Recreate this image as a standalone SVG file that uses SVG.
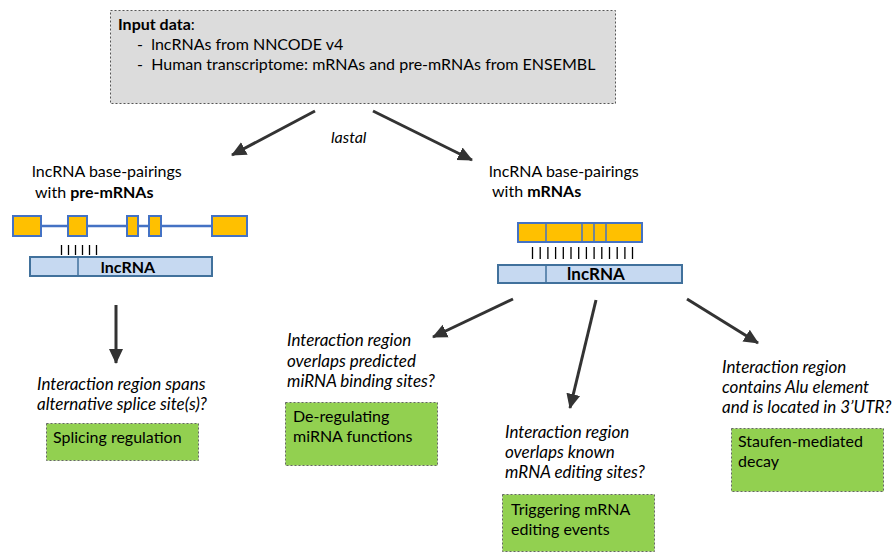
<svg xmlns="http://www.w3.org/2000/svg" width="894" height="554" viewBox="0 0 894 554">
  <style>
    text { font-family: Lato, "Open Sans", "Liberation Sans", sans-serif; fill: #000; }
    .t { font-size: 16px; }
    .q { font-size: 17px; font-style: italic; }
    .b { font-weight: bold; }
    .input { fill: #dcdcdc; stroke: #555; stroke-width: 1; stroke-dasharray: 2 2; }
    .result { fill: #92d050; stroke: #666; stroke-width: 1; stroke-dasharray: 2 2; }
    .exon { fill: #ffc000; stroke: #4472c4; stroke-width: 2; }
    .lnc { fill: #c6d9f1; stroke: #41719c; stroke-width: 2; }
    .intron { stroke: #4472c4; stroke-width: 2.5; fill: none; }
    .tick { stroke: #000; stroke-width: 1.3; }
    .arrow { stroke: #333; stroke-width: 3; fill: none; marker-end: url(#head); }
    .lbl { font-size: 16px; font-weight: bold; text-anchor: middle; }
  </style>
  <defs>
    <marker id="head" markerUnits="userSpaceOnUse" markerWidth="16" markerHeight="16" refX="14" refY="8" orient="auto">
      <path d="M0,1 L15,8 L0,15 Z" fill="#333"/>
    </marker>
  </defs>

  <!-- input data box -->
  <g id="input">
    <rect class="input" x="110.5" y="10.5" width="505" height="93"/>
    <text class="t" x="118" y="30"><tspan class="b">Input data</tspan>:</text>
    <text class="t" x="137" y="50" xml:space="preserve">-  lncRNAs from NNCODE v4</text>
    <text class="t" x="137" y="70" xml:space="preserve">-  Human transcriptome: mRNAs and pre-mRNAs from ENSEMBL</text>
  </g>

  <!-- pre-mRNA pairing -->
  <g id="pre-mrna">
    <text class="t" x="32" y="177">lncRNA base-pairings</text>
    <text class="t" x="35" y="198">with <tspan class="b">pre-mRNAs</tspan></text>
    <line class="intron" x1="41" y1="226" x2="212" y2="226"/>
    <rect class="exon" x="13" y="216" width="28" height="20"/>
    <rect class="exon" x="68" y="216" width="19" height="20"/>
    <rect class="exon" x="127" y="216" width="11" height="20"/>
    <rect class="exon" x="149" y="216" width="12" height="20"/>
    <rect class="exon" x="212" y="216" width="35" height="20"/>
    <g class="tick">
      <line x1="61.5" y1="245" x2="61.5" y2="255"/>
      <line x1="68.5" y1="245" x2="68.5" y2="255"/>
      <line x1="75.5" y1="245" x2="75.5" y2="255"/>
      <line x1="82.5" y1="245" x2="82.5" y2="255"/>
      <line x1="89.5" y1="245" x2="89.5" y2="255"/>
      <line x1="96.5" y1="245" x2="96.5" y2="255"/>
    </g>
    <rect class="lnc" x="30" y="257" width="182" height="19"/>
    <line x1="78" y1="257" x2="78" y2="276" stroke="#41719c" stroke-width="1.5"/>
    <text class="lbl" x="128" y="273">lncRNA</text>
  </g>

  <!-- mRNA pairing -->
  <g id="mrna">
    <text class="t" x="489" y="177">lncRNA base-pairings</text>
    <text class="t" x="492" y="197">with <tspan class="b">mRNAs</tspan></text>
    <rect class="exon" x="518" y="223" width="124" height="19"/>
    <g stroke="#4472c4" stroke-width="1.5">
      <line x1="546" y1="223" x2="546" y2="242"/>
      <line x1="582" y1="223" x2="582" y2="242"/>
      <line x1="594" y1="223" x2="594" y2="242"/>
      <line x1="606" y1="223" x2="606" y2="242"/>
    </g>
    <g class="tick">
      <line x1="532.5" y1="247" x2="532.5" y2="259"/>
      <line x1="540.2" y1="247" x2="540.2" y2="259"/>
      <line x1="547.9" y1="247" x2="547.9" y2="259"/>
      <line x1="555.6" y1="247" x2="555.6" y2="259"/>
      <line x1="563.3" y1="247" x2="563.3" y2="259"/>
      <line x1="571" y1="247" x2="571" y2="259"/>
      <line x1="578.7" y1="247" x2="578.7" y2="259"/>
      <line x1="586.4" y1="247" x2="586.4" y2="259"/>
      <line x1="594.1" y1="247" x2="594.1" y2="259"/>
      <line x1="601.8" y1="247" x2="601.8" y2="259"/>
      <line x1="609.5" y1="247" x2="609.5" y2="259"/>
      <line x1="617.2" y1="247" x2="617.2" y2="259"/>
      <line x1="624.9" y1="247" x2="624.9" y2="259"/>
      <line x1="632.5" y1="247" x2="632.5" y2="259"/>
    </g>
    <rect class="lnc" x="498" y="265" width="184" height="18"/>
    <line x1="546" y1="265" x2="546" y2="283" stroke="#41719c" stroke-width="1.5"/>
    <text class="lbl" x="596" y="280" style="font-size:17px">lncRNA</text>
  </g>

  <!-- outcomes -->
  <g id="splicing">
    <text class="q" x="37" y="390">Interaction region spans</text>
    <text class="q" x="37" y="410">alternative splice site(s)?</text>
    <rect class="result" x="46.5" y="423.5" width="152" height="37"/>
    <text class="t" x="53" y="443">Splicing regulation</text>
  </g>

  <g id="mirna">
    <text class="q" x="287" y="346">Interaction region</text>
    <text class="q" x="287" y="367">overlaps predicted</text>
    <text class="q" x="287" y="387">miRNA binding sites?</text>
    <rect class="result" x="285.5" y="402.5" width="152" height="63"/>
    <text class="t" x="293" y="422">De-regulating</text>
    <text class="t" x="293" y="442">miRNA functions</text>
  </g>

  <g id="editing">
    <text class="q" x="505" y="438">Interaction region</text>
    <text class="q" x="505" y="458">overlaps known</text>
    <text class="q" x="505" y="478">mRNA editing sites?</text>
    <rect class="result" x="502.5" y="494.5" width="152" height="57"/>
    <text class="t" x="511" y="515">Triggering mRNA</text>
    <text class="t" x="511" y="535">editing events</text>
  </g>

  <g id="staufen">
    <text class="q" x="722" y="373">Interaction region</text>
    <text class="q" x="722" y="393">contains Alu element</text>
    <text class="q" x="722" y="413">and is located in 3’UTR?</text>
    <rect class="result" x="731.5" y="428.5" width="152" height="63"/>
    <text class="t" x="738" y="447">Staufen-mediated</text>
    <text class="t" x="738" y="467">decay</text>
  </g>

  <!-- connectors -->
  <g id="connectors">
    <line class="arrow" x1="315" y1="111" x2="232" y2="155"/>
    <line class="arrow" x1="373" y1="111" x2="472" y2="160"/>
    <text class="q" x="331" y="143" style="font-size:16px">lastal</text>
    <line class="arrow" x1="116" y1="305" x2="116" y2="363"/>
    <line class="arrow" x1="513" y1="299" x2="433" y2="337"/>
    <line class="arrow" x1="596" y1="300" x2="570" y2="408"/>
    <line class="arrow" x1="687" y1="299" x2="758" y2="343"/>
  </g>
</svg>
